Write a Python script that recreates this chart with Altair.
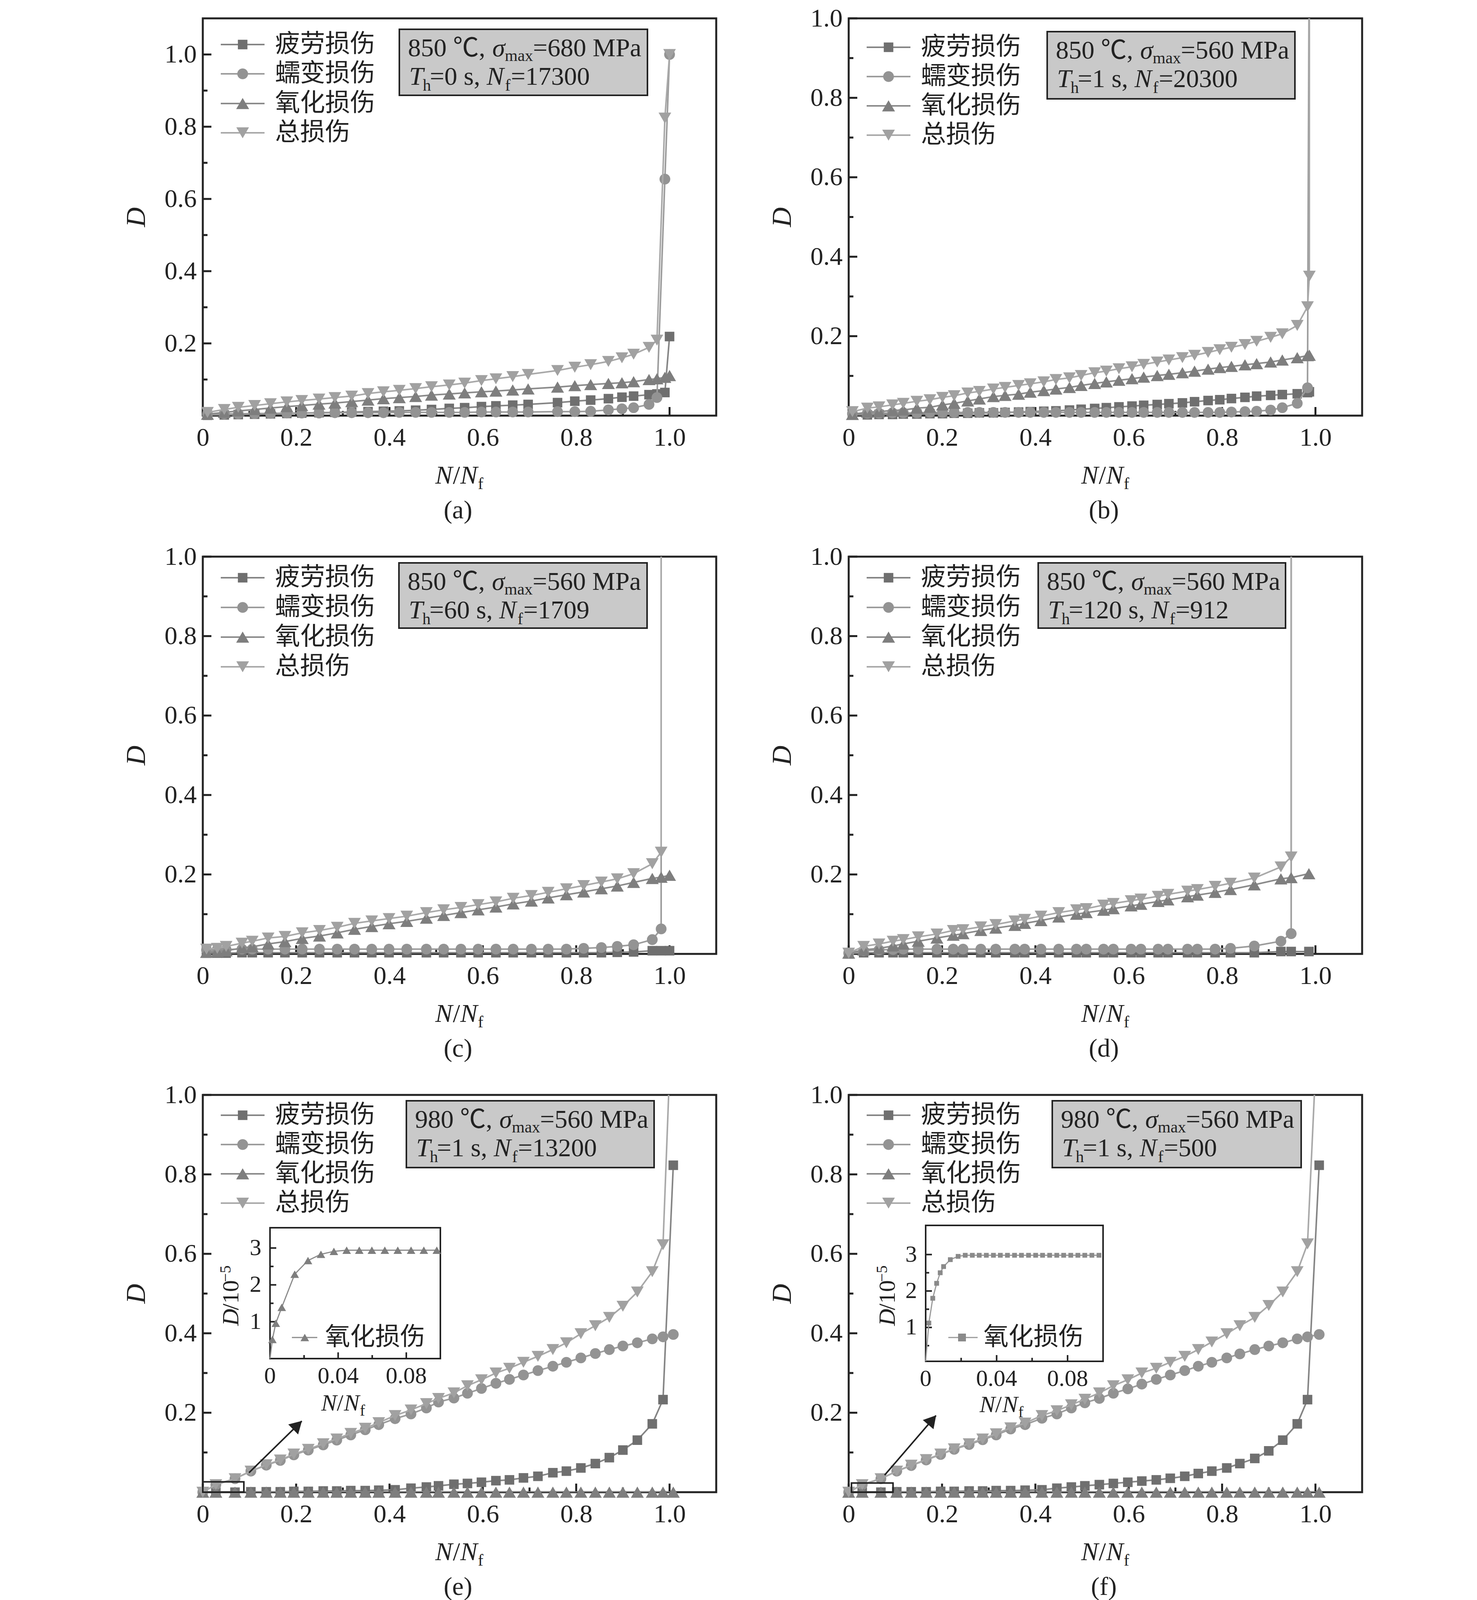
import math
import altair as alt
import pandas as pd

SERIF = "Liberation Serif"
SERIF_CJK = "Liberation Serif, Noto Sans CJK SC"
INK = "#222222"
VS = 0.95                      # vertical fit factor (page is photographed a little shorter)
W, H = 1314, round(1071 * VS)


def vy(v):
    return round(v * VS)


# ---------------- data ----------------
# (a) 850 C, 680 MPa, Th=0 s
a_x = [0.01, 0.046, 0.076, 0.111, 0.145, 0.18, 0.212, 0.249, 0.283, 0.319,
       0.354, 0.387, 0.421, 0.456, 0.49, 0.528, 0.561, 0.597, 0.628, 0.664,
       0.697, 0.76, 0.797, 0.831, 0.869, 0.898, 0.923, 0.956, 0.973, 0.99, 1.0]
a_fatigue = [0.001, 0.002, 0.003, 0.004, 0.005, 0.006, 0.007, 0.008, 0.009, 0.01,
             0.011, 0.012, 0.013, 0.015, 0.017, 0.02, 0.022, 0.025, 0.027, 0.029,
             0.031, 0.036, 0.04, 0.043, 0.047, 0.051, 0.054, 0.058, 0.06, 0.064, 0.219]
a_creep = [0.004, 0.005, 0.005, 0.006, 0.006, 0.007, 0.007, 0.007, 0.008, 0.008,
           0.008, 0.008, 0.009, 0.009, 0.009, 0.009, 0.009, 0.01, 0.01, 0.01,
           0.01, 0.011, 0.011, 0.012, 0.016, 0.019, 0.022, 0.031, 0.05, 0.655, 1.0]
a_oxid = [0.004, 0.009, 0.013, 0.017, 0.021, 0.025, 0.028, 0.032, 0.035, 0.039,
          0.043, 0.047, 0.05, 0.053, 0.057, 0.06, 0.063, 0.066, 0.068, 0.071,
          0.074, 0.079, 0.083, 0.086, 0.089, 0.091, 0.094, 0.1, 0.102, 0.106, 0.111]
a_total = [0.009, 0.017, 0.023, 0.028, 0.033, 0.038, 0.042, 0.046, 0.05, 0.054,
           0.061, 0.066, 0.07, 0.075, 0.08, 0.085, 0.09, 0.097, 0.102, 0.108,
           0.114, 0.125, 0.134, 0.141, 0.15, 0.16, 0.17, 0.189, 0.209, 0.824, 1.0]

# (b) 850 C, 560 MPa, Th=1 s
b_x = [0.008, 0.04, 0.065, 0.094, 0.117, 0.146, 0.174, 0.201, 0.226, 0.255,
       0.28, 0.31, 0.335, 0.364, 0.389, 0.418, 0.444, 0.473, 0.498, 0.527,
       0.552, 0.579, 0.607, 0.632, 0.661, 0.686, 0.715, 0.741, 0.77, 0.795,
       0.82, 0.849, 0.874, 0.904, 0.929, 0.961, 0.983, 0.987]
b_fatigue = [0.002, 0.002, 0.003, 0.003, 0.004, 0.004, 0.005, 0.005, 0.006, 0.006,
             0.007, 0.007, 0.008, 0.009, 0.01, 0.011, 0.012, 0.014, 0.016, 0.018,
             0.02, 0.022, 0.024, 0.026, 0.028, 0.03, 0.032, 0.035, 0.038, 0.04,
             0.043, 0.046, 0.049, 0.051, 0.053, 0.055, 0.058, 0.06]
b_creep = [0.005, 0.006, 0.006, 0.007, 0.007, 0.007, 0.008, 0.008, 0.008, 0.008,
           0.008, 0.008, 0.008, 0.008, 0.008, 0.008, 0.008, 0.008, 0.008, 0.008,
           0.008, 0.008, 0.008, 0.008, 0.008, 0.008, 0.008, 0.008, 0.008, 0.008,
           0.009, 0.01, 0.011, 0.014, 0.02, 0.031, 0.07]
b_oxid = [0.003, 0.009, 0.01, 0.013, 0.014, 0.019, 0.021, 0.027, 0.031, 0.037,
          0.042, 0.048, 0.051, 0.054, 0.059, 0.063, 0.067, 0.071, 0.076, 0.081,
          0.085, 0.089, 0.093, 0.097, 0.101, 0.104, 0.108, 0.112, 0.117, 0.121,
          0.124, 0.128, 0.131, 0.135, 0.14, 0.146, 0.151, 0.152]
b_total = [0.01, 0.019, 0.022, 0.027, 0.031, 0.036, 0.04, 0.046, 0.05, 0.057,
           0.061, 0.067, 0.071, 0.076, 0.08, 0.085, 0.091, 0.095, 0.101, 0.108,
           0.112, 0.118, 0.123, 0.129, 0.135, 0.14, 0.146, 0.152, 0.159, 0.166,
           0.172, 0.179, 0.187, 0.197, 0.206, 0.227, 0.274, 0.351]
b_rise = (0.987, 1.3)   # curves leave the plot upward here

# (c) 850 C, 560 MPa, Th=60 s
c_x = [0.008, 0.031, 0.05, 0.084, 0.106, 0.14, 0.176, 0.213, 0.25, 0.288,
       0.325, 0.362, 0.399, 0.437, 0.479, 0.516, 0.553, 0.59, 0.628, 0.665,
       0.704, 0.74, 0.779, 0.816, 0.854, 0.888, 0.923, 0.963, 0.982, 1.0]
c_fatigue = [0.002, 0.002, 0.002, 0.003, 0.003, 0.003, 0.003, 0.003, 0.003, 0.003,
             0.003, 0.003, 0.003, 0.003, 0.003, 0.003, 0.003, 0.003, 0.003, 0.003,
             0.003, 0.003, 0.003, 0.003, 0.003, 0.004, 0.005, 0.008, 0.008, 0.008]
c_creep = [0.01, 0.011, 0.011, 0.012, 0.012, 0.012, 0.012, 0.012, 0.012, 0.012,
           0.012, 0.012, 0.012, 0.012, 0.012, 0.012, 0.012, 0.012, 0.012, 0.012,
           0.012, 0.012, 0.012, 0.014, 0.016, 0.019, 0.023, 0.036, 0.063]
c_oxid = [0.004, 0.006, 0.008, 0.015, 0.018, 0.025, 0.031, 0.039, 0.045, 0.053,
          0.062, 0.069, 0.076, 0.082, 0.09, 0.097, 0.104, 0.111, 0.118, 0.126,
          0.133, 0.141, 0.149, 0.156, 0.164, 0.171, 0.18, 0.19, 0.193, 0.198]
c_total = [0.012, 0.014, 0.019, 0.027, 0.032, 0.04, 0.044, 0.053, 0.059, 0.067,
           0.077, 0.083, 0.089, 0.095, 0.104, 0.111, 0.117, 0.124, 0.131, 0.14,
           0.147, 0.155, 0.164, 0.172, 0.181, 0.189, 0.202, 0.227, 0.256]
c_rise = (0.982, 1.3)

# (d) 850 C, 560 MPa, Th=120 s
d_x = [0.0, 0.032, 0.065, 0.095, 0.117, 0.149, 0.189, 0.224, 0.245, 0.283,
       0.315, 0.356, 0.377, 0.412, 0.45, 0.488, 0.509, 0.546, 0.567, 0.605,
       0.626, 0.663, 0.684, 0.726, 0.747, 0.785, 0.818, 0.869, 0.926, 0.948, 0.986]
d_fatigue = [0.0, 0.003, 0.003, 0.003, 0.003, 0.003, 0.003, 0.003, 0.003, 0.003,
             0.003, 0.003, 0.003, 0.003, 0.003, 0.003, 0.003, 0.003, 0.003, 0.003,
             0.003, 0.003, 0.003, 0.003, 0.003, 0.003, 0.003, 0.003, 0.006, 0.006, 0.006]
d_creep = [0.002, 0.008, 0.01, 0.011, 0.012, 0.012, 0.012, 0.012, 0.012, 0.012,
           0.012, 0.012, 0.012, 0.012, 0.012, 0.012, 0.012, 0.012, 0.012, 0.012,
           0.012, 0.012, 0.012, 0.012, 0.012, 0.012, 0.014, 0.02, 0.032, 0.051]
d_oxid = [0.002, 0.01, 0.014, 0.02, 0.025, 0.032, 0.04, 0.047, 0.051, 0.059,
          0.065, 0.072, 0.077, 0.084, 0.093, 0.1, 0.104, 0.11, 0.114, 0.121,
          0.125, 0.132, 0.136, 0.144, 0.148, 0.155, 0.162, 0.174, 0.189, 0.192, 0.202]
d_total = [0.002, 0.019, 0.025, 0.032, 0.036, 0.043, 0.05, 0.059, 0.061, 0.068,
           0.074, 0.083, 0.087, 0.095, 0.104, 0.111, 0.114, 0.123, 0.127, 0.134,
           0.138, 0.145, 0.15, 0.158, 0.162, 0.17, 0.178, 0.191, 0.219, 0.244]
d_rise = (0.948, 1.3)

# (e) 980 C, 560 MPa, Th=1 s, Nf=13200
e_x = [0.0, 0.028, 0.069, 0.103, 0.136, 0.166, 0.195, 0.226, 0.258, 0.287,
       0.317, 0.348, 0.377, 0.412, 0.446, 0.479, 0.505, 0.538, 0.567, 0.597,
       0.628, 0.657, 0.687, 0.718, 0.75, 0.779, 0.81, 0.841, 0.871, 0.9,
       0.931, 0.963, 0.986, 1.008]
e_fatigue = [0.0, 0.0, 0.0, 0.001, 0.001, 0.001, 0.002, 0.002, 0.003, 0.003,
             0.004, 0.004, 0.005, 0.006, 0.01, 0.013, 0.016, 0.02, 0.022, 0.025,
             0.029, 0.031, 0.036, 0.04, 0.049, 0.053, 0.061, 0.072, 0.087, 0.106,
             0.131, 0.172, 0.233, 0.823]
e_creep = [0.0, 0.019, 0.034, 0.053, 0.068, 0.08, 0.094, 0.106, 0.119, 0.131,
           0.144, 0.157, 0.17, 0.185, 0.197, 0.212, 0.227, 0.237, 0.249, 0.261,
           0.274, 0.284, 0.295, 0.306, 0.317, 0.327, 0.338, 0.349, 0.359, 0.368,
           0.376, 0.386, 0.391, 0.397]
e_oxid = [0.0, 0.00003, 0.00003, 0.00003, 0.00003, 0.00003, 0.00003, 0.00003, 0.00003, 0.00003,
          0.00003, 0.00003, 0.00003, 0.00003, 0.00003, 0.00003, 0.00003, 0.00003, 0.00003, 0.00003,
          0.00003, 0.00003, 0.00003, 0.00003, 0.00003, 0.00003, 0.00003, 0.00003, 0.00003, 0.00003,
          0.00003, 0.00003, 0.00003, 0.00003]
e_total = [0.0, 0.019, 0.034, 0.053, 0.069, 0.081, 0.096, 0.108, 0.122, 0.134,
           0.148, 0.161, 0.175, 0.193, 0.207, 0.223, 0.236, 0.25, 0.268, 0.283,
           0.3, 0.312, 0.327, 0.342, 0.359, 0.376, 0.399, 0.419, 0.44, 0.468,
           0.504, 0.555, 0.623]
e_rise = (1.0, 1.06)

# (f) 980 C, 560 MPa, Th=1 s, Nf=500
f_x = [0.0, 0.029, 0.069, 0.103, 0.134, 0.166, 0.197, 0.226, 0.258, 0.287,
       0.316, 0.347, 0.378, 0.414, 0.446, 0.477, 0.506, 0.537, 0.567, 0.598,
       0.628, 0.659, 0.689, 0.72, 0.749, 0.778, 0.81, 0.838, 0.87, 0.9,
       0.93, 0.961, 0.983, 1.008]
f_fatigue = [0.0, 0.0, 0.0, 0.001, 0.001, 0.001, 0.002, 0.002, 0.003, 0.003,
             0.004, 0.004, 0.005, 0.006, 0.01, 0.013, 0.016, 0.019, 0.022, 0.025,
             0.028, 0.031, 0.035, 0.04, 0.047, 0.053, 0.061, 0.072, 0.085, 0.104,
             0.131, 0.172, 0.233, 0.823]
f_creep = [0.0, 0.019, 0.034, 0.053, 0.067, 0.081, 0.095, 0.108, 0.12, 0.132,
           0.144, 0.159, 0.17, 0.186, 0.197, 0.212, 0.225, 0.236, 0.249, 0.26,
           0.272, 0.284, 0.295, 0.306, 0.317, 0.327, 0.338, 0.348, 0.359, 0.368,
           0.376, 0.386, 0.391, 0.397]
f_oxid = [0.0, 0.00003, 0.00003, 0.00003, 0.00003, 0.00003, 0.00003, 0.00003, 0.00003, 0.00003,
          0.00003, 0.00003, 0.00003, 0.00003, 0.00003, 0.00003, 0.00003, 0.00003, 0.00003, 0.00003,
          0.00003, 0.00003, 0.00003, 0.00003, 0.00003, 0.00003, 0.00003, 0.00003, 0.00003, 0.00003,
          0.00003, 0.00003, 0.00003, 0.00003]
f_total = [0.0, 0.019, 0.034, 0.053, 0.068, 0.082, 0.096, 0.109, 0.122, 0.134,
           0.147, 0.162, 0.174, 0.193, 0.205, 0.22, 0.234, 0.25, 0.268, 0.283,
           0.3, 0.312, 0.327, 0.342, 0.359, 0.378, 0.399, 0.419, 0.44, 0.47,
           0.504, 0.555, 0.625]
f_rise = (1.0, 1.06)

# insets: oxidation damage, D in units of 1e-5
ie_x = [0.0, 0.0014, 0.0034, 0.0069, 0.0145, 0.0223, 0.0299, 0.0375, 0.045, 0.0524,
        0.0598, 0.0674, 0.075, 0.0828, 0.0903, 0.0979]
ie_y = [0.0, 0.52, 0.96, 1.39, 2.29, 2.66, 2.83, 2.91, 2.94, 2.94,
        2.94, 2.94, 2.94, 2.94, 2.94, 2.94]
if_x = [0.0, 0.0018, 0.004, 0.0062, 0.0082, 0.0101, 0.0139, 0.0183, 0.0223, 0.0263,
        0.0302, 0.0342, 0.0382, 0.0421, 0.0461, 0.0501, 0.054, 0.058, 0.062, 0.0659,
        0.0699, 0.0739, 0.0778, 0.0818, 0.0858, 0.0897, 0.0937, 0.0977]
if_y = [0.07, 1.12, 1.8, 2.21, 2.5, 2.67, 2.86, 2.95, 2.98, 2.98,
        2.98, 2.98, 2.98, 2.98, 2.98, 2.98, 2.98, 2.98, 2.98, 2.98,
        2.98, 2.98, 2.98, 2.98, 2.98, 2.98, 2.98, 2.98]

SERIES_NAMES = ["疲劳损伤", "蠕变损伤", "氧化损伤", "总损伤"]
XMAJ = [0, 0.2, 0.4, 0.6, 0.8, 1.0]
XMIN = [0.1, 0.3, 0.5, 0.7, 0.9]
YMAJ = [0.2, 0.4, 0.6, 0.8, 1.0]
YMIN = [0.1, 0.3, 0.5, 0.7, 0.9]

# ---------------- styling ----------------
SER = [
    dict(shape="square", size=600, m="#6f6f6f", l="#858585"),
    dict(shape="circle", size=760, m="#939393", l="#9c9c9c"),
    dict(shape="triangle-up", size=1100, m="#7e7e7e", l="#8b8b8b"),
    dict(shape="triangle-down", size=1050, m="#a1a1a1", l="#a9a9a9"),
]
ONE = pd.DataFrame({"k": [0]})

XAXIS = alt.Axis(values=XMAJ, labelExpr="datum.value == 0 ? '0' : format(datum.value, '.1f')",
                 ticks=False, domain=False, grid=False, labelFont=SERIF, labelFontSize=66,
                 labelColor=INK, labelPadding=24, labelFlush=False, labelOverlap=False,
                 title=None, orient="bottom")
YAXIS = alt.Axis(values=YMAJ, format=".1f", ticks=False, domain=False, grid=False,
                 labelFont=SERIF, labelFontSize=66, labelColor=INK, labelPadding=16,
                 labelFlush=False, labelOverlap=False, title="D", titleFont=SERIF,
                 titleFontSize=70, titleFontStyle="italic", titleFontWeight="normal",
                 titleColor=INK, titlePadding=35, orient="left")


def txt(rows, size=66, style="normal", font=SERIF, align="left", baseline="alphabetic",
        angle=None, color=INK):
    df = pd.DataFrame(rows, columns=["px", "py", "t"])
    kw = dict(align=align, baseline=baseline, font=font, fontSize=size,
              fontStyle=style, fontWeight="normal", color=color)
    if angle is not None:
        kw["angle"] = angle
    return alt.Chart(df).mark_text(**kw).encode(
        x=alt.X("px:Q", scale=None, axis=None),
        y=alt.Y("py:Q", scale=None, axis=None),
        text="t:N")


def inset_layers(q):
    yb, yt = vy(q["yb"]), vy(q["yt"])
    ixs = alt.Scale(domain=[0, 0.1], range=[q["x0"], q["x1"]], nice=False, zero=False)
    iys = alt.Scale(domain=[q["ylo"], q["yhi"]], range=[yb, yt], nice=False, zero=False)
    X = lambda f: alt.X(f, scale=ixs, axis=None)
    Y = lambda f: alt.Y(f, scale=iys, axis=None)
    L = []
    L.append(alt.Chart(pd.DataFrame({"x": [0], "x2": [0.1], "y": [q["ylo"]], "y2": [q["yhi"]]}))
             .mark_rect(fill="white", stroke=INK, strokeWidth=4)
             .encode(x=X("x:Q"), x2=alt.X2("x2"), y=Y("y:Q"), y2=alt.Y2("y2")))
    for vals, ln in (([0.04, 0.08], 16), ([0.02, 0.06], 9)):
        L.append(alt.Chart(pd.DataFrame({"v": vals})).mark_rule(color=INK, strokeWidth=4)
                 .encode(x=X("v:Q"), y=alt.value(yb), y2=alt.value(yb - ln)))
    for vals, ln in (([1, 2, 3], 16), ([0.5, 1.5, 2.5], 9)):
        L.append(alt.Chart(pd.DataFrame({"v": vals})).mark_rule(color=INK, strokeWidth=4)
                 .encode(y=Y("v:Q"), x=alt.value(q["x0"]), x2=alt.value(q["x0"] + ln)))
    df = pd.DataFrame({"x": q["x"], "y": q["y"]})
    df["i"] = range(len(df))
    L.append(alt.Chart(df).mark_line(color=q["lc"], strokeWidth=3)
             .encode(x=X("x:Q"), y=Y("y:Q"), order="i:Q"))
    L.append(alt.Chart(df.iloc[1:]).mark_point(shape=q["shape"], size=q["msize"], filled=True,
                                                opacity=1, color=q["mc"])
             .encode(x=X("x:Q"), y=Y("y:Q")))
    L.append(alt.Chart(pd.DataFrame({"v": [0, 0.04, 0.08], "t": ["0", "0.04", "0.08"]}))
             .mark_text(font=SERIF, fontSize=60, color=INK, align="center", baseline="top")
             .encode(x=X("v:Q"), y=alt.value(yb + 16), text="t:N"))
    L.append(alt.Chart(pd.DataFrame({"v": [1, 2, 3], "t": ["1", "2", "3"]}))
             .mark_text(font=SERIF, fontSize=60, color=INK, align="right", baseline="middle")
             .encode(y=Y("v:Q"), x=alt.value(q["x0"] - 22), text="t:N"))
    # axis titles
    tx, ty = q["ytx"], vy(622)
    L.append(txt([(tx, ty, "D")], size=60, style="italic", baseline="middle", angle=270))
    L.append(txt([(tx, ty - 40, "/10")], size=60, baseline="middle", angle=270))
    L.append(txt([(tx - 14, ty - 112, "−5")], size=40, baseline="middle", angle=270))
    nx, nb = q["xtx"], vy(q["xtb"])
    L.append(txt([(nx, nb, "N"), (nx + 58, nb, "N")], size=60, style="italic"))
    L.append(txt([(nx + 40, nb, "/")], size=60))
    L.append(txt([(nx + 99, nb + 13, "f")], size=40))
    # legend
    lx0, lx1, lm, lt, ly = q["leg"]
    ly = vy(ly)
    L.append(alt.Chart(ONE).mark_rule(color=q["lc"], strokeWidth=3)
             .encode(x=alt.value(lx0), x2=alt.value(lx1), y=alt.value(ly)))
    L.append(alt.Chart(ONE).mark_point(shape=q["shape"], size=q["lsize"], filled=True, opacity=1,
                                       color=q["mc"]).encode(x=alt.value(lm), y=alt.value(ly)))
    L.append(txt([(lt, ly, "氧化损伤")], size=64, font=SERIF_CJK, baseline="middle"))
    return L


def build_panel(p):
    xs = alt.Scale(domain=[0, 1.1], nice=False, zero=False)
    ys = alt.Scale(domain=[0, p["ymax"]], nice=False, zero=False)
    X = lambda f: alt.X(f, scale=xs, axis=None)
    Y = lambda f: alt.Y(f, scale=ys, axis=None)
    L = []
    # axes + inward ticks
    L.append(alt.Chart(pd.DataFrame({"v": XMAJ})).mark_rule(color=INK, strokeWidth=5)
             .encode(x=alt.X("v:Q", scale=xs, axis=XAXIS), y=alt.value(H), y2=alt.value(H - 22)))
    L.append(alt.Chart(pd.DataFrame({"v": XMIN})).mark_rule(color=INK, strokeWidth=5)
             .encode(x=X("v:Q"), y=alt.value(H), y2=alt.value(H - 12)))
    L.append(alt.Chart(pd.DataFrame({"v": YMAJ})).mark_rule(color=INK, strokeWidth=5)
             .encode(y=alt.Y("v:Q", scale=ys, axis=YAXIS), x=alt.value(0), x2=alt.value(22)))
    L.append(alt.Chart(pd.DataFrame({"v": YMIN})).mark_rule(color=INK, strokeWidth=5)
             .encode(y=Y("v:Q"), x=alt.value(0), x2=alt.value(12)))
    # data series
    for k, (sx, sy, rise) in enumerate(p["series"]):
        s = SER[k]
        df = pd.DataFrame({"x": sx, "y": sy})
        df["i"] = range(len(df))
        ldf = df
        if rise is not None:
            ldf = pd.concat([df, pd.DataFrame({"x": [rise[0]], "y": [rise[1]], "i": [len(df)]})],
                            ignore_index=True)
        L.append(alt.Chart(ldf).mark_line(color=s["l"], strokeWidth=4, clip=True)
                 .encode(x=X("x:Q"), y=Y("y:Q"), order="i:Q"))
        L.append(alt.Chart(df).mark_point(shape=s["shape"], size=s["size"], filled=True,
                                          opacity=1, color=s["m"])
                 .encode(x=X("x:Q"), y=Y("y:Q")))
    # zoom rectangle + arrow
    if "rect" in p:
        r0, r1, rh = p["rect"]
        L.append(alt.Chart(pd.DataFrame({"x": [r0], "x2": [r1], "y": [0], "y2": [rh]}))
                 .mark_rect(fillOpacity=0, stroke=INK, strokeWidth=4)
                 .encode(x=X("x:Q"), x2=alt.X2("x2"), y=Y("y:Q"), y2=alt.Y2("y2")))
        (x1, y1), (x2, y2) = p["arrow"]
        L.append(alt.Chart(pd.DataFrame({"x": [x1], "y": [y1], "x2": [x2], "y2": [y2]}))
                 .mark_rule(color=INK, strokeWidth=4)
                 .encode(x=X("x:Q"), x2=alt.X2("x2"), y=Y("y:Q"), y2=alt.Y2("y2")))
        ppx, ppy = W / 1.1, H / p["ymax"]
        dxp, dyp = (x2 - x1) * ppx, (y2 - y1) * ppy
        ang = math.atan2(dxp, dyp)
        back = 15
        hx = x2 - back * math.sin(ang) / ppx
        hy = y2 - back * math.cos(ang) / ppy
        L.append(alt.Chart(pd.DataFrame({"x": [hx], "y": [hy]}))
                 .mark_point(shape="triangle-up", size=1300, filled=True, opacity=1, color=INK,
                             angle=round(math.degrees(ang), 1))
                 .encode(x=X("x:Q"), y=Y("y:Q")))
    # annotation box
    bx, by, bw, bh = p["box"]
    by, bh = vy(by), vy(bh)
    L.append(alt.Chart(ONE).mark_rect(fill="#c9c9c9", stroke=INK, strokeWidth=4)
             .encode(x=alt.value(bx), x2=alt.value(bx + bw), y=alt.value(by), y2=alt.value(by + bh)))
    b1, b2 = by + vy(73), by + vy(150)
    nx = bx + 78 + (1.703 + 0.5 * len(p["th"])) * 66
    L.append(txt([(bx + 22, b1, p["temp"] + " ℃,"), (bx + 342, b1, "=" + p["smax"] + " MPa"),
                  (bx + 78, b2, "=" + p["th"] + " s,"), (nx + 62, b2, "=" + p["nf"])],
                 font=SERIF_CJK))
    L.append(txt([(bx + 238, b1, "σ"), (bx + 25, b2, "T"), (nx, b2, "N")], style="italic"))
    L.append(txt([(bx + 270, b1 + 12, "max"), (bx + 60, b2 + 15, "h"), (nx + 47, b2 + 15, "f")],
                 size=42))
    # legend
    rows = [vy(r) for r in p["leg"]]
    for k, ry in enumerate(rows):
        s = SER[k]
        L.append(alt.Chart(ONE).mark_rule(color=s["l"], strokeWidth=4)
                 .encode(x=alt.value(46), x2=alt.value(158), y=alt.value(ry)))
        L.append(alt.Chart(ONE).mark_point(shape=s["shape"], size=s["size"], filled=True,
                                           opacity=1, color=s["m"])
                 .encode(x=alt.value(102), y=alt.value(ry)))
    L.append(txt([(185, ry, SERIES_NAMES[k]) for k, ry in enumerate(rows)],
                 size=64, font=SERIF_CJK, baseline="middle"))
    # x title and caption
    tb = vy(1071 + 183)
    L.append(txt([(595, tb, "N"), (659, tb, "N")], style="italic"))
    L.append(txt([(640, tb, "/")]))
    L.append(txt([(704, tb + 14, "f")], size=42))
    L.append(txt([(653, vy(1071 + 276), p["cap"])], align="center"))
    if "inset" in p:
        L += inset_layers(p["inset"])
    return alt.layer(*L).resolve_scale(x="independent", y="independent").properties(width=W, height=H)


PANELS = [
    dict(cap="(a)", ymax=1.1, temp="850", smax="680", th="0", nf="17300",
         box=(503, 30, 635, 178), leg=[71, 150, 229, 308],
         series=[(a_x, a_fatigue, None), (a_x, a_creep, None), (a_x, a_oxid, None), (a_x, a_total, None)]),
    dict(cap="(b)", ymax=1.0, temp="850", smax="560", th="1", nf="20300",
         box=(508, 36, 634, 181), leg=[78, 157, 236, 315],
         series=[(b_x, b_fatigue, None), (b_x[:37], b_creep, b_rise), (b_x, b_oxid, None),
                 (b_x, b_total, b_rise)]),
    dict(cap="(c)", ymax=1.0, temp="850", smax="560", th="60", nf="1709",
         box=(502, 17, 635, 176), leg=[57, 137, 217, 297],
         series=[(c_x, c_fatigue, None), (c_x[:29], c_creep, c_rise), (c_x, c_oxid, None),
                 (c_x[:29], c_total, c_rise)]),
    dict(cap="(d)", ymax=1.0, temp="850", smax="560", th="120", nf="912",
         box=(485, 17, 633, 176), leg=[57, 137, 217, 297],
         series=[(d_x, d_fatigue, None), (d_x[:30], d_creep, d_rise), (d_x, d_oxid, None),
                 (d_x[:30], d_total, d_rise)]),
    dict(cap="(e)", ymax=1.0, temp="980", smax="560", th="1", nf="13200",
         box=(521, 16, 634, 180), leg=[55, 134, 213, 292],
         series=[(e_x, e_fatigue, None), (e_x, e_creep, None), (e_x, e_oxid, None),
                 (e_x[:33], e_total, e_rise)],
         rect=(0.0, 0.088, 0.026), arrow=((0.099, 0.049), (0.212, 0.179)),
         inset=dict(x=ie_x, y=ie_y, x0=172, x1=608, ylo=0.0, yhi=3.55, yb=711, yt=358,
                    shape="triangle-up", msize=480, lsize=480, mc="#7e7e7e", lc="#8b8b8b",
                    ytx=73, xtx=303, xtb=850, leg=(228, 293, 261, 313, 654))),
    dict(cap="(f)", ymax=1.0, temp="980", smax="560", th="1", nf="500",
         box=(521, 16, 637, 180), leg=[55, 134, 213, 292],
         series=[(f_x, f_fatigue, None), (f_x, f_creep, None), (f_x, f_oxid, None),
                 (f_x[:33], f_total, f_rise)],
         rect=(0.006, 0.095, 0.023), arrow=((0.077, 0.043), (0.187, 0.193)),
         inset=dict(x=if_x, y=if_y, x0=197, x1=651, ylo=0.07, yhi=3.8, yb=718, yt=352,
                    shape="square", msize=150, lsize=400, mc="#8a8a8a", lc="#9a9a9a",
                    ytx=100, xtx=335, xtb=855, leg=(255, 330, 290, 345, 654))),
]

panels = [build_panel(p) for p in PANELS]
chart = (alt.concat(*panels, columns=2, bounds="flush",
                    spacing={"row": vy(380), "column": 339})
         .properties(padding={"left": 304, "top": 3, "right": 10, "bottom": 300})
         .configure(font=SERIF)
         .configure_view(stroke=INK, strokeWidth=5))

chart.save("out.html", embed_options={"renderer": "svg", "actions": False})
